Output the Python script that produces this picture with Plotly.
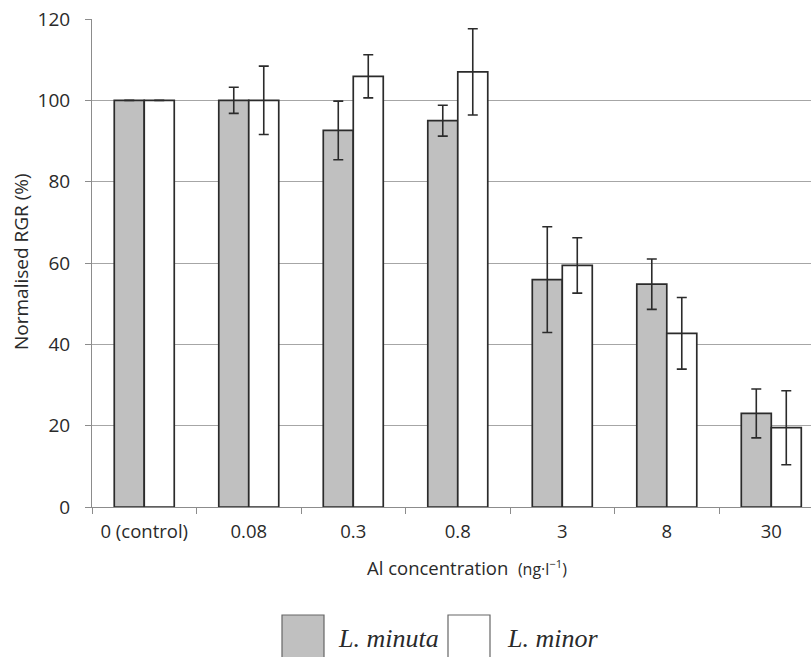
import plotly.graph_objects as go

# Al concentration groups (ng·l⁻¹)
categories = ["0 (control)", "0.08", "0.3", "0.8", "3", "8", "30"]

# Normalised relative growth rate (%) and error (±)
minuta_rgr = [100, 100, 92.6, 95.0, 55.9, 54.8, 23.0]
minuta_err = [None, 3.2, 7.2, 3.8, 13.0, 6.2, 6.0]
minor_rgr = [100, 100, 105.9, 107.0, 59.4, 42.7, 19.5]
minor_err = [None, 8.4, 5.3, 10.6, 6.8, 8.8, 9.1]

y_ticks = [0, 20, 40, 60, 80, 100, 120]

series_names = ["L. minuta", "L. minor"]
fill_colors = ["#c0c0c0", "#ffffff"]
edge = "#2b2b2b"
text_col = "#2a2a2a"

fig = go.Figure()
for name, vals, errs, col in zip(series_names, [minuta_rgr, minor_rgr],
                                 [minuta_err, minor_err], fill_colors):
    fig.add_trace(go.Bar(
        x=categories, y=vals, name=name,
        marker=dict(color=col, line=dict(color=edge, width=1.7)),
        error_y=dict(type="data", array=errs, visible=True,
                     color=edge, thickness=1.6, width=5),
        showlegend=False,
    ))

W, H = 811, 657
ML, MR, MT, MB = 92, 0, 19, 150

fig.update_layout(
    width=W, height=H,
    margin=dict(l=ML, r=MR, t=MT, b=MB, pad=0),
    paper_bgcolor="white", plot_bgcolor="white",
    barmode="group", bargap=0.426, bargroupgap=0,
    font=dict(family="Open Sans", color=text_col, size=15),
)
fig.update_xaxes(
    type="category", range=[-0.5, 6.38],
    showline=True, linecolor="#8c8c8c", linewidth=1,
    ticks="outside", ticklen=6, tickcolor="#8c8c8c", tickson="boundaries",
    showgrid=False,
    tickfont=dict(family="Open Sans", size=18.5, color=text_col),
    ticklabelstandoff=8,
)
fig.update_yaxes(
    range=[0, 120], tickvals=y_ticks,
    showline=True, linecolor="#8c8c8c", linewidth=1,
    ticks="outside", ticklen=6, tickcolor="#8c8c8c",
    showgrid=True, gridcolor="#a6a6a6", gridwidth=1,
    zeroline=False,
    tickfont=dict(family="Open Sans", size=19, color=text_col),
    ticklabelstandoff=11,
)

plot_h = H - MT - MB

# axis titles
fig.add_annotation(
    text="Normalised RGR (%)", textangle=-90,
    xref="paper", yref="paper", x=0, y=(507 - 262) / plot_h,
    xanchor="center", yanchor="middle", xshift=21 - ML,
    showarrow=False, font=dict(family="Open Sans", size=19, color=text_col),
)
fig.add_annotation(
    text="Al concentration  <span style='font-size:16px'>(ng·l<sup>−1</sup>)</span>",
    xref="paper", yref="paper", x=(467 - ML) / (W - ML - MR), y=0,
    xanchor="center", yanchor="middle", yshift=-(567 - (H - MB)),
    showarrow=False, font=dict(family="Open Sans", size=18.5, color=text_col),
)

# legend swatches and labels
def px_x(p):
    return (p - ML) / (W - ML - MR)

def px_y(p):
    return (H - MB - p) / plot_h

for (x0, x1), col in zip([(282, 324), (448, 490)], fill_colors):
    fig.add_shape(type="rect", xref="paper", yref="paper",
                  x0=px_x(x0), x1=px_x(x1), y0=px_y(660), y1=px_y(615),
                  line=dict(color="#666666", width=1.2), fillcolor=col)
for name, xl in zip(series_names, [336, 505]):
    fig.add_annotation(
        text=f"<i>{name}</i>", xref="paper", yref="paper",
        x=px_x(xl), y=px_y(638), xanchor="left", yanchor="middle",
        showarrow=False,
        font=dict(family="Liberation Serif", size=26, color=text_col),
    )

fig.write_html("out.html")
